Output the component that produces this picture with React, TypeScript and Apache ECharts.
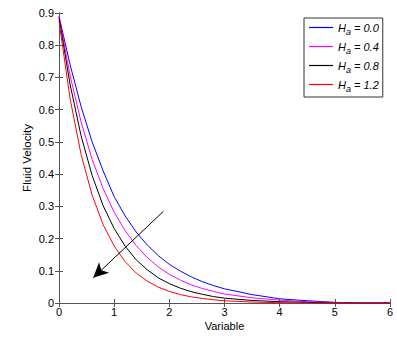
import React, { useEffect, useRef } from "react";
import * as echarts from "echarts";

const xs = [0, 0.2, 0.4, 0.6, 0.8, 1.0, 1.2, 1.4, 1.6, 1.8, 2.0, 2.2, 2.4, 2.6, 2.8, 3.0, 3.5, 4.0, 4.5, 5.0, 5.5, 6.0];

const seriesNames = ["0.0", "0.4", "0.8", "1.2"];
const seriesColors = ["#0000ff", "#ff00ff", "#000000", "#ff0000"];

const blue = [0.89, 0.74, 0.61, 0.5, 0.41, 0.33, 0.27, 0.22, 0.18, 0.147, 0.12, 0.099, 0.081, 0.066, 0.054, 0.044, 0.026, 0.013, 0.007, 0.002, 0.0, 0.0];
const magenta = [0.89, 0.707, 0.562, 0.446, 0.355, 0.282, 0.224, 0.178, 0.141, 0.112, 0.089, 0.071, 0.056, 0.045, 0.036, 0.028, 0.016, 0.009, 0.004, 0.001, 0.0, 0.0];
const black = [0.885, 0.679, 0.519, 0.396, 0.302, 0.231, 0.176, 0.134, 0.103, 0.078, 0.06, 0.046, 0.035, 0.027, 0.02, 0.015, 0.008, 0.004, 0.002, 0.0, 0.0, 0.0];
const red = [0.875, 0.635, 0.461, 0.335, 0.243, 0.177, 0.128, 0.093, 0.068, 0.049, 0.036, 0.026, 0.019, 0.014, 0.01, 0.007, 0.003, 0.001, 0.0, 0.0, 0.0, 0.0];

const allValues = [blue, magenta, black, red];

const arrowStart = [1.89, 0.284];
const arrowEnd = [0.62, 0.078];

const FONT = "Liberation Sans, Arial, sans-serif";
const AXIS_COLOR = "#555";

export default function App() {
  const ref = useRef<HTMLDivElement>(null);

  useEffect(() => {
    document.body.style.margin = "0";
    const chart = echarts.init(ref.current!, null, { renderer: "svg" });

    const series: any[] = allValues.map((vals, si) => ({
      name: "Ha = " + seriesNames[si],
      type: "line",
      data: xs.map((x, i) => [x, vals[i]]),
      symbol: "none",
      showSymbol: false,
      lineStyle: { color: seriesColors[si], width: 1 },
      itemStyle: { color: seriesColors[si] },
      z: 3,
    }));

    series[0].markLine = {
      silent: true,
      symbol: ["none", "arrow"],
      symbolSize: [11, 15],
      label: { show: false },
      lineStyle: { color: "#000", width: 1, type: "solid" },
      data: [[{ coord: arrowStart }, { coord: arrowEnd }]],
    };

    const axisCommon = {
      type: "value",
      axisLine: { show: true, lineStyle: { color: AXIS_COLOR, width: 1 } },
      axisTick: { show: true, inside: true, length: 4, lineStyle: { color: AXIS_COLOR } },
      splitLine: { show: false },
    };

    chart.setOption({
      animation: false,
      backgroundColor: "#fff",
      textStyle: { fontFamily: FONT },
      grid: { left: 59, right: 7, top: 13, bottom: 43, containLabel: false },
      legend: {
        orient: "vertical",
        left: 304,
        top: 18,
        padding: [4, 4, 4, 5],
        itemWidth: 24,
        itemHeight: 14,
        itemGap: 5,
        icon: "path://M0,0 H24 V1.2 H0 Z",
        symbolKeepAspect: true,
        borderColor: "#333",
        borderWidth: 1,
        backgroundColor: "#fff",
        data: series.map((s) => s.name),
        formatter: (name: string) => {
          const v = name.split("= ")[1];
          return `{h|H}{s|a}{t| = ${v}}`;
        },
        textStyle: {
          fontFamily: FONT,
          color: "#000",
          rich: {
            h: { fontSize: 11, fontStyle: "italic", fontFamily: FONT, color: "#000" },
            s: { fontSize: 9, fontStyle: "italic", fontFamily: FONT, color: "#000", padding: [8, 0, 0, 0] },
            t: { fontSize: 11, fontStyle: "italic", fontFamily: FONT, color: "#000" },
          },
        },
      },
      xAxis: [
        {
          ...axisCommon,
          position: "bottom",
          min: 0,
          max: 6,
          interval: 1,
          name: "Variable",
          nameLocation: "middle",
          nameGap: 17,
          nameMoveOverlap: false,
          nameTextStyle: { fontSize: 11, color: "#000", fontFamily: FONT },
          axisLabel: { fontSize: 11, color: "#000", margin: 3, fontFamily: FONT },
        },
        {
          ...axisCommon,
          position: "top",
          min: 0,
          max: 6,
          interval: 1,
          axisLabel: { show: false },
        },
      ],
      yAxis: [
        {
          ...axisCommon,
          position: "left",
          min: 0,
          max: 0.9,
          interval: 0.1,
          name: "Fluid Velocity",
          nameLocation: "middle",
          nameGap: 26,
          nameMoveOverlap: false,
          nameTextStyle: { fontSize: 11.5, color: "#000", fontFamily: FONT },
          axisLabel: {
            fontSize: 11,
            color: "#000",
            margin: 5,
            fontFamily: FONT,
            formatter: (v: number) => (Math.round(v * 10) / 10).toString(),
          },
        },
        {
          ...axisCommon,
          position: "right",
          min: 0,
          max: 0.9,
          interval: 0.1,
          axisLabel: { show: false },
        },
      ],
      series,
    });

    return () => chart.dispose();
  }, []);

  return <div ref={ref} style={{ width: 397, height: 346 }} />;
}
